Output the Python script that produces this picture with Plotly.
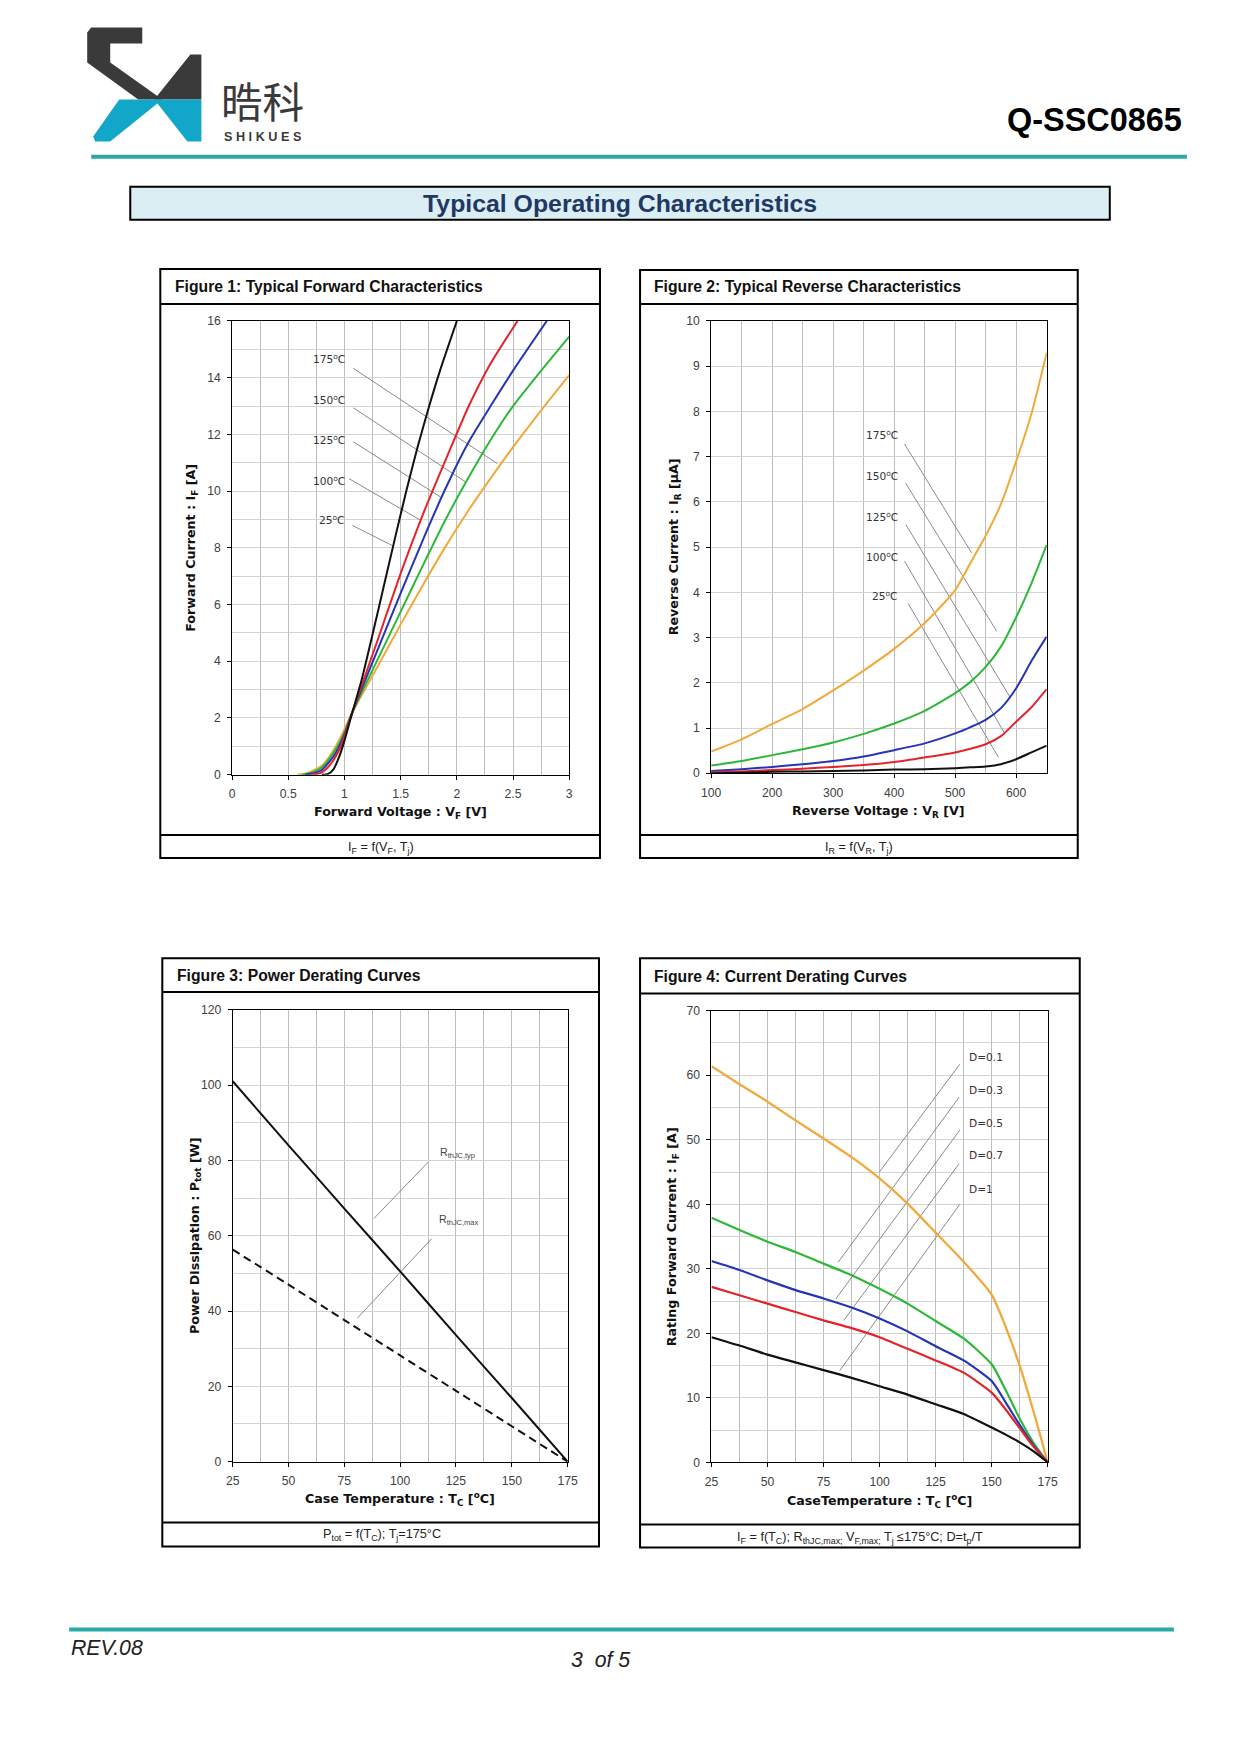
import plotly.graph_objects as go

# The page is 1241x1755 and the browser body keeps its default 8px margin.
# The photographed picture shows the page slightly reduced about its centre,
# so reference positions are mapped through that measured correction.
PAGE_W, PAGE_H = 1241, 1755
OFF = 8
W, H = PAGE_W - 2 * OFF, PAGE_H - 2 * OFF
SX, DX = 1.0182, -10.25
SY, DY = 1.0102, -7.8
FS = 1.014


def px(x):
    return (SX * x + DX - OFF) / W


def py(y):
    return 1 - (SY * y + DY - OFF) / H


# ---------------- Figure 1: typical forward characteristics ----------------
f1_labels = ["25<sup>o</sup>C", "100<sup>o</sup>C", "125<sup>o</sup>C", "150<sup>o</sup>C", "175<sup>o</sup>C"]
f1_v_25c = [0.80, 0.85, 0.90, 0.95, 1.00, 1.07, 1.15, 1.25, 1.35, 1.45, 1.55, 1.65, 1.75, 1.85, 2.00]
f1_i_25c = [0.00, 0.02, 0.18, 0.60, 1.20, 2.20, 3.30, 4.95, 6.65, 8.35, 10.0, 11.55, 12.95, 14.25, 16.0]
f1_v_100c = [0.70, 0.75, 0.80, 0.85, 0.90, 0.95, 1.00, 1.07, 1.30, 1.50, 1.70, 1.90, 2.10, 2.30, 2.54]
f1_i_100c = [0.00, 0.02, 0.08, 0.25, 0.50, 0.85, 1.35, 2.20, 4.80, 7.10, 9.20, 11.1, 12.95, 14.5, 16.0]
f1_v_125c = [0.65, 0.70, 0.75, 0.80, 0.85, 0.90, 0.95, 1.00, 1.07, 1.30, 1.50, 1.70, 1.90, 2.10, 2.30, 2.50, 2.80]
f1_i_125c = [0.00, 0.03, 0.08, 0.17, 0.38, 0.63, 0.97, 1.42, 2.20, 4.45, 6.40, 8.30, 10.1, 11.7, 13.0, 14.25, 16.0]
f1_v_150c = [0.62, 0.70, 0.75, 0.80, 0.85, 0.90, 0.95, 1.00, 1.07, 1.30, 1.50, 1.70, 1.90, 2.10, 2.30, 2.50, 2.75, 3.00]
f1_i_150c = [0.00, 0.06, 0.14, 0.26, 0.48, 0.76, 1.08, 1.50, 2.20, 4.10, 5.75, 7.40, 9.00, 10.45, 11.8, 13.0, 14.25, 15.45]
f1_v_175c = [0.58, 0.65, 0.70, 0.75, 0.80, 0.85, 0.90, 0.95, 1.00, 1.07, 1.30, 1.50, 1.70, 1.90, 2.10, 2.30, 2.50, 2.75, 3.00]
f1_i_175c = [0.00, 0.03, 0.10, 0.20, 0.32, 0.55, 0.85, 1.20, 1.60, 2.20, 3.85, 5.30, 6.70, 8.05, 9.30, 10.45, 11.55, 12.85, 14.09]
# label anchors and leader lines (data units)
f1_label_v = [1.025, 1.025, 1.025, 1.025, 1.025]
f1_label_i = [8.97, 10.36, 11.80, 13.23, 14.66]
f1_lead_v0 = [1.07, 1.04, 1.078, 1.078, 1.078]
f1_lead_i0 = [8.79, 10.44, 11.74, 12.94, 14.33]
f1_lead_v1 = [1.425, 1.678, 1.856, 2.079, 2.36]
f1_lead_i1 = [8.08, 8.97, 9.79, 10.32, 10.97]

# ---------------- Figure 2: typical reverse characteristics ----------------
f2_vr = [100, 150, 200, 250, 300, 350, 400, 450, 500, 525, 550, 575, 600, 625, 650]
f2_ir_25c = [0.00, 0.01, 0.03, 0.04, 0.05, 0.06, 0.08, 0.09, 0.11, 0.13, 0.15, 0.20, 0.31, 0.46, 0.61]
f2_ir_100c = [0.02, 0.04, 0.07, 0.10, 0.14, 0.18, 0.25, 0.35, 0.46, 0.54, 0.64, 0.82, 1.14, 1.46, 1.86]
f2_ir_125c = [0.05, 0.09, 0.14, 0.20, 0.27, 0.37, 0.51, 0.66, 0.88, 1.02, 1.18, 1.44, 1.88, 2.48, 3.02]
f2_ir_150c = [0.17, 0.27, 0.40, 0.53, 0.68, 0.87, 1.10, 1.38, 1.77, 2.02, 2.35, 2.80, 3.45, 4.20, 5.05]
f2_ir_175c = [0.48, 0.75, 1.09, 1.42, 1.83, 2.27, 2.75, 3.32, 4.05, 4.65, 5.25, 5.95, 6.90, 7.95, 9.30]
f2_label_v = [410, 410, 410, 410, 410]
f2_label_i = [3.91, 4.78, 5.67, 6.58, 7.49]
f2_lead_v0 = [423, 417, 419, 419, 417]
f2_lead_i0 = [3.75, 4.69, 5.50, 6.41, 7.28]
f2_lead_v1 = [571, 582, 590, 568, 527]
f2_lead_i1 = [0.35, 0.86, 1.68, 3.14, 4.87]

# ---------------- Figure 3: power derating ----------------
f3_tc = [25, 50, 75, 100, 125, 150, 175]
f3_p_typ = [101.0, 84.0, 67.2, 50.5, 33.6, 16.9, 0.0]
f3_p_max = [56.3, 47.0, 37.6, 28.2, 18.8, 9.4, 0.0]
f3_labels = ["R<sub>thJC,typ</sub>", "R<sub>thJC,max</sub>"]
f3_label_t = [116.8, 116.7]
f3_label_p = [81.9, 64.1]
f3_lead_t0 = [112.5, 114.1]
f3_lead_p0 = [79.5, 59.2]
f3_lead_t1 = [88.3, 80.8]
f3_lead_p1 = [64.6, 38.1]

# ---------------- Figure 4: current derating ----------------
f4_tc = [25, 37.5, 50, 62.5, 75, 87.5, 100, 112.5, 125, 137.5, 150, 156.25, 162.5, 168.75, 175]
f4_if_d01 = [61.4, 58.6, 55.9, 53.0, 50.2, 47.3, 44.0, 40.1, 35.6, 31.1, 26.0, 21.0, 15.0, 7.8, 0.0]
f4_if_d03 = [37.9, 36.0, 34.2, 32.6, 30.8, 29.0, 26.9, 24.6, 21.9, 19.2, 15.2, 11.2, 6.8, 3.0, 0.0]
f4_if_d05 = [31.2, 29.8, 28.2, 26.7, 25.4, 24.0, 22.3, 20.3, 18.0, 15.8, 12.6, 9.3, 5.8, 2.6, 0.0]
f4_if_d07 = [27.2, 25.9, 24.6, 23.3, 22.0, 20.8, 19.4, 17.6, 15.8, 13.9, 10.8, 8.2, 5.3, 2.4, 0.0]
f4_if_d1 = [19.4, 18.1, 16.7, 15.5, 14.3, 13.1, 11.8, 10.5, 9.0, 7.5, 5.4, 4.3, 3.1, 1.7, 0.0]
f4_labels = ["D=0.1", "D=0.3", "D=0.5", "D=0.7", "D=1"]
f4_label_t = [138.8, 138.8, 138.8, 138.8, 138.8]
f4_label_i = [62.7, 57.6, 52.5, 47.5, 42.3]
f4_lead_t0 = [135.8, 135.5, 135.8, 135.5, 135.8]
f4_lead_i0 = [61.7, 56.6, 51.5, 46.3, 40.0]
f4_lead_t1 = [99.9, 81.5, 80.4, 84.0, 82.2]
f4_lead_i1 = [45.0, 31.0, 25.3, 22.0, 14.2]

BLACK = "#111111"
RED = "#e3242b"
BLUE = "#2535b5"
GREEN = "#2db83a"
ORANGE = "#f2a93b"
LEAD = "#8a8a8a"

fig = go.Figure()


def curve(x, y, color, xa, ya, width=2.0, dash=None):
    line = dict(color=color, width=width, shape="spline", smoothing=0.6)
    if dash:
        line["dash"] = dash
    fig.add_trace(go.Scatter(x=x, y=y, mode="lines", line=line, xaxis=xa, yaxis=ya,
                             hoverinfo="skip", showlegend=False))


def leaders(x0, y0, x1, y1, xa, ya):
    for a, b, c, d in zip(x0, y0, x1, y1):
        fig.add_trace(go.Scatter(x=[a, c], y=[b, d], mode="lines",
                                 line=dict(color=LEAD, width=1), xaxis=xa, yaxis=ya,
                                 hoverinfo="skip", showlegend=False))


leaders(f1_lead_v0, f1_lead_i0, f1_lead_v1, f1_lead_i1, "x", "y")
curve(f1_v_175c, f1_i_175c, ORANGE, "x", "y")
curve(f1_v_150c, f1_i_150c, GREEN, "x", "y")
curve(f1_v_125c, f1_i_125c, BLUE, "x", "y")
curve(f1_v_100c, f1_i_100c, RED, "x", "y")
curve(f1_v_25c, f1_i_25c, BLACK, "x", "y")

leaders(f2_lead_v0, f2_lead_i0, f2_lead_v1, f2_lead_i1, "x2", "y2")
curve(f2_vr, f2_ir_175c, ORANGE, "x2", "y2")
curve(f2_vr, f2_ir_150c, GREEN, "x2", "y2")
curve(f2_vr, f2_ir_125c, BLUE, "x2", "y2")
curve(f2_vr, f2_ir_100c, RED, "x2", "y2")
curve(f2_vr, f2_ir_25c, BLACK, "x2", "y2")

leaders(f3_lead_t0, f3_lead_p0, f3_lead_t1, f3_lead_p1, "x3", "y3")
curve(f3_tc, f3_p_typ, BLACK, "x3", "y3", width=2.0)
curve(f3_tc, f3_p_max, BLACK, "x3", "y3", width=2.0, dash="8px,5px")

leaders(f4_lead_t0, f4_lead_i0, f4_lead_t1, f4_lead_i1, "x4", "y4")
curve(f4_tc, f4_if_d01, ORANGE, "x4", "y4", width=2.3)
curve(f4_tc, f4_if_d03, GREEN, "x4", "y4", width=2.2)
curve(f4_tc, f4_if_d05, BLUE, "x4", "y4", width=2.2)
curve(f4_tc, f4_if_d07, RED, "x4", "y4", width=2.2)
curve(f4_tc, f4_if_d1, BLACK, "x4", "y4", width=2.2)

TICKFONT = dict(family="Liberation Sans", size=12 * FS, color="#404040")
VGRID = "#bdbdbd"
HGRID = "#d4d4d4"


def axis(domain, rng, dtick, tick0, minor, anchor, grid):
    d = dict(domain=domain, range=rng, dtick=dtick, tick0=tick0, anchor=anchor,
             showline=True, linecolor="#000", linewidth=1, mirror=True,
             ticks="outside", ticklen=4, tickwidth=1, tickcolor="#000",
             showgrid=True, gridcolor=grid, gridwidth=1, zeroline=False,
             tickfont=TICKFONT, fixedrange=True, ticklabelstandoff=4)
    if minor:
        d["minor"] = dict(dtick=minor, tick0=tick0, showgrid=True, gridcolor=grid,
                          gridwidth=1, ticks="")
    return d


P1 = (231.7, 321.0, 568.3, 773.7)
P2 = (710.0, 321.0, 1045.0, 772.3)
P3 = (232.3, 1008.3, 566.7, 1459.3)
P4 = (710.3, 1009.3, 1046.0, 1460.0)


def xd(p):
    return [px(p[0]), px(p[2])]


def yd(p):
    return [py(p[3]), py(p[1])]


fig.update_layout(
    width=W, height=H, margin=dict(l=0, r=0, t=0, b=0),
    paper_bgcolor="white", plot_bgcolor="white", showlegend=False,
    xaxis=axis(xd(P1), [0, 3], 0.5, 0, 0.25, "y", VGRID),
    yaxis=axis(yd(P1), [0, 16], 2, 0, 1, "x", HGRID),
    xaxis2=axis(xd(P2), [100, 650], 100, 100, 50, "y2", VGRID),
    yaxis2=axis(yd(P2), [0, 10], 1, 0, None, "x2", HGRID),
    xaxis3=axis(xd(P3), [25, 175], 25, 25, 12.5, "y3", VGRID),
    yaxis3=axis(yd(P3), [0, 120], 20, 0, 10, "x3", HGRID),
    xaxis4=axis(xd(P4), [25, 175], 25, 25, 12.5, "y4", VGRID),
    yaxis4=axis(yd(P4), [0, 70], 10, 0, 5, "x4", HGRID),
)

shapes = []
annotations = []


def rect(x0, y0, x1, y1, color="#000", width=2, fill=None):
    s = dict(type="rect", xref="paper", yref="paper", x0=px(x0), x1=px(x1),
             y0=py(y1), y1=py(y0), line=dict(color=color, width=width), layer="above")
    if fill:
        s["fillcolor"] = fill
    shapes.append(s)


def hline(x0, x1, y, color="#000", width=2):
    shapes.append(dict(type="line", xref="paper", yref="paper", x0=px(x0), x1=px(x1),
                       y0=py(y), y1=py(y), line=dict(color=color, width=width)))


def poly(points, color):
    path = "M " + " L ".join(f"{px(a):.5f},{py(b):.5f}" for a, b in points) + " Z"
    shapes.append(dict(type="path", xref="paper", yref="paper", path=path,
                       fillcolor=color, line=dict(width=0), layer="above"))


def text(x, y, t, size, family="Liberation Sans", color="#000", xanchor="center",
         yanchor="middle", angle=0):
    annotations.append(dict(x=px(x), y=py(y), xref="paper", yref="paper", text=t,
                            showarrow=False, xanchor=xanchor, yanchor=yanchor,
                            textangle=angle,
                            font=dict(family=family, size=size * FS, color=color)))


DARK = "#3a3a3a"
CYAN = "#12a7c8"
poly([(87, 33), (91, 28), (142, 28), (142, 44), (110, 44), (110, 63), (162, 100), (138, 100), (87, 63)], DARK)
poly([(119, 100), (162, 100), (110, 142), (95, 142), (93, 137)], CYAN)
poly([(190, 55), (201, 55), (201, 100), (154, 100)], DARK)
poly([(154, 100), (201, 100), (201, 142), (187, 142)], CYAN)
text(262, 100, "晧科", 41, family="Noto Sans CJK SC", color=DARK)
text(262, 137.5, "<b>S H I K U E S</b>", 12.5, color=DARK)
text(1182, 120, "<b>Q-SSC0865</b>", 32, xanchor="right")
hline(91, 1185, 157, color="#2ba9a6", width=4)

rect(130, 187, 1108, 220, width=2, fill="#dbeef4")
text(619, 204, "<b>Typical Operating Characteristics</b>", 24.5, color="#1f3864")

panels = [
    (160, 269, 599, 857, 304, 834, "Figure 1: Typical Forward Characteristics", 173, 287,
     "I<sub>F</sub> = f(V<sub>F</sub>, T<sub>j</sub>)", 380, 847),
    (639, 270, 1076, 857, 304, 834, "Figure 2: Typical Reverse Characteristics", 651, 287,
     "I<sub>R</sub> = f(V<sub>R</sub>, T<sub>j</sub>)", 858, 847),
    (162, 957, 598, 1544, 990.7, 1520, "Figure 3: Power Derating Curves", 175, 974,
     "P<sub>tot</sub> = f(T<sub>C</sub>); T<sub>j</sub>=175°C", 381, 1532.7),
    (639, 957, 1078, 1545, 992, 1522, "Figure 4: Current Derating Curves", 651, 975.5,
     "I<sub>F</sub> = f(T<sub>C</sub>); R<sub>thJC,max;</sub> V<sub>F,max;</sub> T<sub>j</sub> ≤175°C; D=t<sub>p</sub>/T",
     859, 1535),
]
for (x0, y0, x1, y1, d1, d2, title, tx, ty, foot, fx, fy) in panels:
    rect(x0, y0, x1, y1, width=2)
    hline(x0, x1, d1, width=2)
    hline(x0, x1, d2, width=2)
    text(tx, ty, f"<b>{title}</b>", 15.5, xanchor="left", color="#111")
    text(fx, fy, foot, 12.5, color="#222")

axis_titles = [
    (P1, 811.7, 191.7, "Forward Voltage : V<sub>F</sub> [V]", "Forward Current : I<sub>F</sub> [A]"),
    (P2, 810.7, 673.0, "Reverse Voltage : V<sub>R</sub> [V]", "Reverse Current : I<sub>R</sub> [µA]"),
    (P3, 1496.7, 195.0, "Case Temperature : T<sub>C</sub> [<sup>o</sup>C]", "Power Dissipation : P<sub>tot</sub> [W]"),
    (P4, 1498.3, 671.7, "CaseTemperature : T<sub>C</sub> [<sup>o</sup>C]", "Rating Forward Current : I<sub>F</sub> [A]"),
]
for p, xy, yx, xt, yt in axis_titles:
    text((p[0] + p[2]) / 2, xy, f"<b>{xt}</b>", 12.5, family="DejaVu Sans", color="#111")
    text(yx, (p[1] + p[3]) / 2, f"<b>{yt}</b>", 12.5, family="DejaVu Sans", color="#111", angle=-90)

LBL = dict(family="DejaVu Sans", size=10.5 * FS, color="#333")
for lab, xv, yv in zip(f1_labels, f1_label_v, f1_label_i):
    annotations.append(dict(x=xv, y=yv, xref="x", yref="y", text=lab, showarrow=False,
                            xanchor="right", yanchor="middle", font=LBL))
for lab, xv, yv in zip(f1_labels, f2_label_v, f2_label_i):
    annotations.append(dict(x=xv, y=yv, xref="x2", yref="y2", text=lab, showarrow=False,
                            xanchor="right", yanchor="middle", font=LBL))
for lab, xv, yv in zip(f3_labels, f3_label_t, f3_label_p):
    annotations.append(dict(x=xv, y=yv, xref="x3", yref="y3", text=lab, showarrow=False,
                            xanchor="left", yanchor="middle",
                            font=dict(family="Liberation Sans", size=10.5 * FS, color="#444")))
for lab, xv, yv in zip(f4_labels, f4_label_t, f4_label_i):
    annotations.append(dict(x=xv, y=yv, xref="x4", yref="y4", text=lab, showarrow=False,
                            xanchor="left", yanchor="middle", font=LBL))

hline(69, 1172, 1626.7, color="#2ba9a6", width=4)
text(69, 1645, "<i>REV.08</i>", 21, xanchor="left", color="#222")
text(600, 1657, "<i>3  of 5</i>", 21, color="#222")

fig.update_layout(shapes=shapes, annotations=annotations)

fig.write_html("out.html", config={"displayModeBar": False, "staticPlot": True})
